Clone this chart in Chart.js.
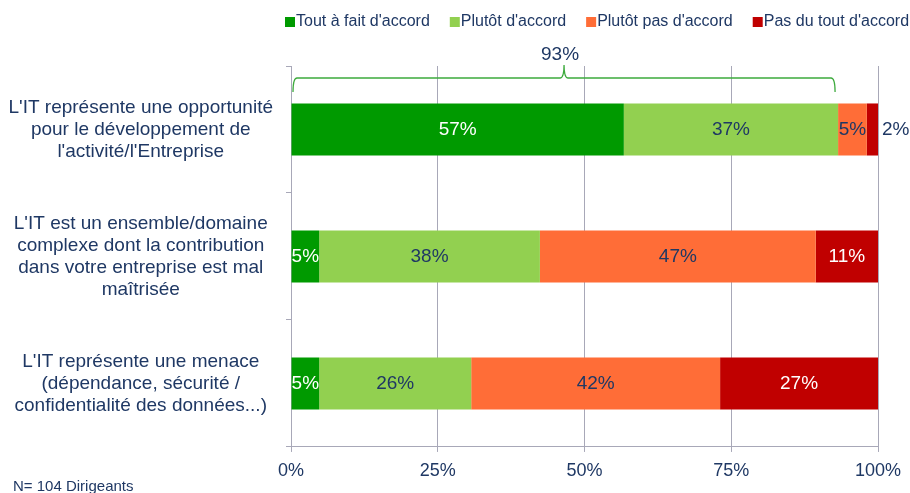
<!DOCTYPE html>
<html lang="fr">
<head>
  <meta charset="UTF-8">
  <title>Perception de l'IT</title>
  <script src="https://cdn.jsdelivr.net/npm/chart.js"></script>
  <style>
    body {
      margin: 0;
      background: #fff;
      font-family: "Liberation Sans", Arial, sans-serif;
    }
    .wrap {
      position: relative;
      width: 910px;
      height: 493px;
    }
    .note {
      position: absolute;
      left: 13px;
      top: 477px;
      font-size: 15px;
      line-height: 17px;
      color: #1F3864;
    }
  </style>
</head>
<body>
  <div class="wrap">
    <canvas id="itChart" width="910" height="493"></canvas>
    <div class="note">N= 104 Dirigeants</div>
  </div>

  <script>
    const categories = [
      ["L'IT représente une opportunité", "pour le développement de", "l'activité/l'Entreprise"],
      ["L'IT est un ensemble/domaine", "complexe dont la contribution", "dans votre entreprise est mal", "maîtrisée"],
      ["L'IT représente une menace", "(dépendance, sécurité /", "confidentialité des données...)"]
    ];
    const seriesNames = ["Tout à fait d'accord", "Plutôt d'accord", "Plutôt pas d'accord", "Pas du tout d'accord"];
    const toutAFait = [56.7, 4.8, 4.8];
    const plutot = [36.5, 37.6, 25.9];
    const plutotPas = [4.9, 47.0, 42.4];
    const pasDuTout = [1.9, 10.6, 26.9];
    const xTicks = [0, 25, 50, 75, 100];
    const topTwoBox = 93; // bracket over first row
    const colors = ['#009A00', '#92D050', '#FF6D37', '#C00000'];
    const labelColors = ['#FFFFFF', '#1F3864', '#1F3864', '#FFFFFF'];
    const textColor = '#1F3864';
    const gridColor = '#A8A8B8';
    const font = '"Liberation Sans", Arial, sans-serif';

    // labels drawn on the bars
    const barLabels = {
      id: 'barLabels',
      afterDatasetsDraw(chart) {
        const ctx = chart.ctx;
        ctx.save();
        ctx.font = '19px ' + font;
        ctx.textBaseline = 'middle';
        chart.data.datasets.forEach((ds, i) => {
          const meta = chart.getDatasetMeta(i);
          meta.data.forEach((bar, j) => {
            const v = ds.data[j];
            const txt = Math.round(v) + '%';
            if (v < 3) {
              ctx.fillStyle = textColor;
              ctx.textAlign = 'left';
              ctx.fillText(txt, bar.x + 4, bar.y);
            } else {
              ctx.fillStyle = labelColors[i];
              ctx.textAlign = 'center';
              ctx.fillText(txt, (bar.x + bar.base) / 2, bar.y);
            }
          });
        });
        ctx.restore();
      }
    };

    // bracket + total above first row
    const bracket = {
      id: 'bracket',
      afterDraw(chart) {
        const x = chart.scales.x;
        const ctx = chart.ctx;
        const left = x.getPixelForValue(0) + 2;
        const right = x.getPixelForValue(toutAFait[0] + plutot[0]) - 3;
        const mid = (left + right) / 2;
        const y = 78, yEnd = 92, yTop = 65;
        ctx.save();
        ctx.strokeStyle = '#3DAA3D';
        ctx.lineWidth = 1.3;
        ctx.beginPath();
        ctx.moveTo(left, yEnd);
        ctx.quadraticCurveTo(left, y, left + 4, y);
        ctx.lineTo(mid - 4, y);
        ctx.quadraticCurveTo(mid, y, mid, yTop);
        ctx.quadraticCurveTo(mid, y, mid + 4, y);
        ctx.lineTo(right - 4, y);
        ctx.quadraticCurveTo(right, y, right, yEnd);
        ctx.stroke();
        ctx.font = '19px ' + font;
        ctx.fillStyle = textColor;
        ctx.textAlign = 'center';
        ctx.textBaseline = 'middle';
        ctx.fillText(topTwoBox + '%', mid - 4, 55);
        ctx.restore();
      }
    };

    // legend row at the top, tight box/text spacing
    const topLegend = {
      id: 'topLegend',
      afterDraw(chart) {
        const ctx = chart.ctx;
        ctx.save();
        ctx.font = '16px ' + font;
        ctx.textBaseline = 'middle';
        ctx.textAlign = 'left';
        let x = 285;
        const y = 22;
        chart.data.datasets.forEach((ds, i) => {
          ctx.fillStyle = ds.backgroundColor;
          ctx.fillRect(x, y - 5, 10, 10);
          ctx.fillStyle = textColor;
          ctx.fillText(ds.label, x + 11, y);
          x += 11 + ctx.measureText(ds.label).width + 20;
        });
        ctx.restore();
      }
    };

    const seriesData = [toutAFait, plutot, plutotPas, pasDuTout];

    new Chart(document.getElementById('itChart'), {
      type: 'bar',
      data: {
        labels: categories,
        datasets: seriesNames.map((name, i) => ({
          label: name,
          data: seriesData[i],
          backgroundColor: colors[i],
          borderWidth: 0,
          categoryPercentage: 1,
          barPercentage: 0.41
        }))
      },
      options: {
        indexAxis: 'y',
        responsive: false,
        animation: false,
        layout: { padding: { top: 66, right: 32, bottom: 0, left: 8 } },
        plugins: {
          legend: { display: false },
          tooltip: { enabled: false }
        },
        scales: {
          x: {
            stacked: true,
            min: 0,
            max: 100,
            afterBuildTicks(axis) {
              axis.ticks = xTicks.map(v => ({ value: v }));
            },
            ticks: {
              color: textColor,
              padding: 8,
              font: { family: font, size: 18 },
              callback: v => v + '%'
            },
            grid: { color: gridColor, tickLength: 5 },
            border: { color: gridColor }
          },
          y: {
            stacked: true,
            afterFit(axis) { axis.width = 283; },
            ticks: {
              color: textColor,
              crossAlign: 'center',
              padding: 13,
              font: { family: font, size: 19, lineHeight: 1.16 }
            },
            grid: { drawOnChartArea: false, offset: true, tickLength: 5, color: gridColor },
            border: { color: gridColor }
          }
        }
      },
      plugins: [barLabels, bracket, topLegend]
    });
  </script>
</body>
</html>
